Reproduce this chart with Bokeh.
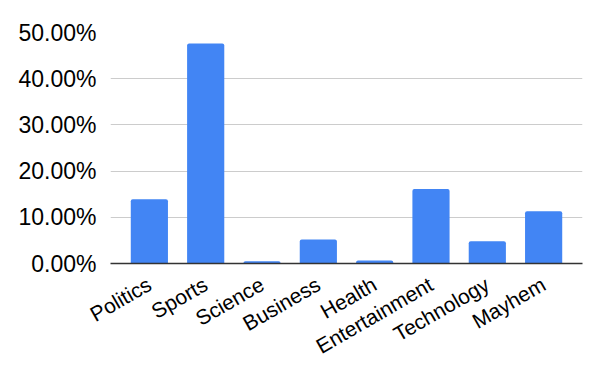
from bokeh.plotting import figure
from bokeh.models import FactorRange, Range1d, NumeralTickFormatter, SingleIntervalTicker, ColumnDataSource
from bokeh.embed import file_html
from bokeh.resources import INLINE
import math

categories = ["Politics", "Sports", "Science", "Business", "Health", "Entertainment", "Technology", "Mayhem"]
shares = [0.139, 0.476, 0.005, 0.052, 0.0065, 0.161, 0.048, 0.113]

source = ColumnDataSource(data=dict(cat=categories, share=shares))

p = figure(
    width=592, height=371,
    x_range=FactorRange(factors=categories, range_padding=0.0475),
    y_range=Range1d(0, 0.5),
    output_backend="svg", toolbar_location=None,
    min_border_left=110, min_border_right=10, min_border_top=32, min_border_bottom=108,
)
p.outline_line_color = None
p.background_fill_color = "white"
p.border_fill_color = "white"

p.vbar(x="cat", top="share", width=0.66, source=source, fill_color="#4285F4",
       line_color=None, border_radius=[2, 2, 0, 0])

p.yaxis.ticker = SingleIntervalTicker(interval=0.1)
p.yaxis.formatter = NumeralTickFormatter(format="0.00%")
p.yaxis.axis_line_color = None
p.yaxis.major_tick_line_color = None
p.yaxis.minor_tick_line_color = None
p.yaxis.major_label_text_font = "Liberation Sans"
p.yaxis.major_label_text_font_size = "23px"
p.yaxis.major_label_text_color = "#000000"
p.yaxis.major_label_standoff = 8

p.xaxis.axis_line_color = "#333333"
p.xaxis.axis_line_width = 1.5
p.xaxis.major_tick_line_color = None
p.xaxis.minor_tick_line_color = None
p.xaxis.major_label_orientation = math.pi / 6
p.xaxis.major_label_text_font = "Liberation Sans"
p.xaxis.major_label_text_font_size = "21px"
p.xaxis.major_label_text_color = "#000000"
p.xaxis.major_label_standoff = 13

p.xgrid.grid_line_color = None
p.ygrid.grid_line_color = "#cccccc"
p.ygrid.grid_line_width = 1

open("out.html", "w").write(file_html(p, INLINE))
